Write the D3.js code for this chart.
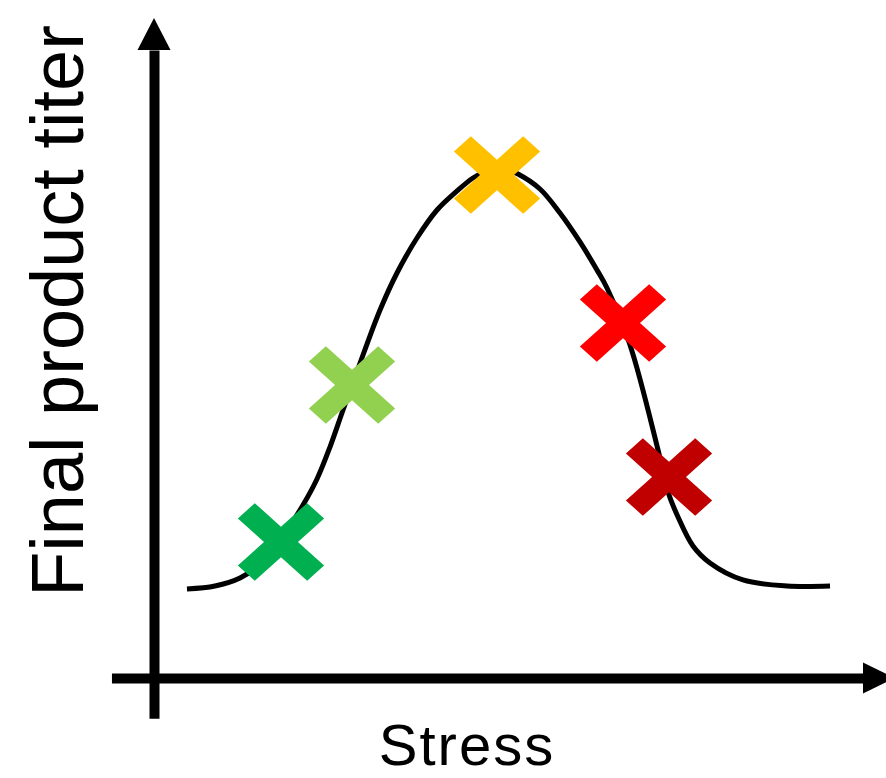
<!DOCTYPE html>
<html>
<head>
<meta charset="utf-8">
<script src="https://cdn.jsdelivr.net/npm/d3@7"></script>
<style>
  html, body { margin: 0; padding: 0; background: #fff; }
  svg { display: block; }
  text { font-family: "Liberation Sans", Arial, Helvetica, sans-serif; fill: #000; }
</style>
</head>
<body>
<svg id="chart" width="886" height="778"></svg>
<script>
// ---- data (arbitrary units: stress 0-100, titer 0-100) ----
const curveStress = [4.65, 8.60, 12.13, 14.95, 17.91, 21.02, 22.99, 24.82, 26.66, 28.35, 30.04, 31.88, 34.27, 37.09, 39.92, 42.74, 44.99, 46.69, 48.24, 49.93, 51.34, 54.44, 57.26, 60.08, 62.48, 63.89, 67.14, 71.09, 72.50, 73.91, 76.02, 78.42, 83.07, 89.28, 95.35];
const curveTiter  = [14.17, 14.65, 15.92, 18.15, 22.13, 27.55, 31.69, 36.78, 42.68, 47.93, 53.18, 58.60, 64.49, 70.06, 74.52, 77.55, 79.62, 80.57, 81.05, 80.89, 80.25, 77.87, 74.04, 69.43, 64.97, 62.10, 53.03, 36.31, 29.62, 25.64, 21.02, 18.31, 15.61, 14.65, 14.65];

const markerNames  = ["low", "mid-low", "optimal", "high", "very high"];
const markerStress = [17.91, 27.93, 48.38, 66.15, 72.64];
const markerTiter  = [21.66, 46.66, 80.10, 56.53, 32.01];
const markerColors = ["#00b050", "#92d050", "#ffc000", "#ff0000", "#c00000"];

const xLabel = "Stress";
const yLabel = "Final product titer";
const axisStart = [-6, -6.4]; // axis lines extend slightly past origin

// ---- scales ----
const svg = d3.select("#chart");
const x = d3.scaleLinear().domain([0, 100]).range([154, 863]);
const y = d3.scaleLinear().domain([0, 100]).range([678, 50]);

// ---- axes (no ticks, thick lines with arrow heads) ----
const xAxisScale = d3.scaleLinear().domain([axisStart[0], 100]).range([x(axisStart[0]), x(100)]);
const yAxisScale = d3.scaleLinear().domain([axisStart[1], 100]).range([y(axisStart[1]), y(100)]);

const gx = svg.append("g").attr("transform", `translate(0,${y(0)})`)
  .call(d3.axisBottom(xAxisScale).tickValues([]).tickSizeOuter(0));
gx.select(".domain").attr("stroke", "#000").attr("stroke-width", 10);

const gy = svg.append("g").attr("transform", `translate(${x(0)},0)`)
  .call(d3.axisLeft(yAxisScale).tickValues([]).tickSizeOuter(0));
gy.select(".domain").attr("stroke", "#000").attr("stroke-width", 10);

// arrow heads
svg.append("path")
  .attr("d", `M${x(0)},${y(100) - 32} L${x(0) - 16.5},${y(100)} L${x(0) + 16.5},${y(100)} Z`)
  .attr("fill", "#000");
svg.append("path")
  .attr("d", `M${x(100) + 32},${y(0)} L${x(100)},${y(0) - 15.5} L${x(100)},${y(0) + 15.5} Z`)
  .attr("fill", "#000");

// ---- curve ----
const pts = curveStress.map((s, i) => [s, curveTiter[i]]);
const line = d3.line().x(d => x(d[0])).y(d => y(d[1])).curve(d3.curveCatmullRom.alpha(0.5));
svg.append("path")
  .datum(pts)
  .attr("d", line)
  .attr("fill", "none")
  .attr("stroke", "#000")
  .attr("stroke-width", 5);

// ---- X markers ----
const a = 49, h = 12;
const crossPath = `M${-h},${-a} L${h},${-a} L${h},${-h} L${a},${-h} L${a},${h} L${h},${h} L${h},${a} L${-h},${a} L${-h},${h} L${-a},${h} L${-a},${-h} L${-h},${-h} Z`;
svg.append("g").selectAll("path")
  .data(markerNames.map((n, i) => ({ n, s: markerStress[i], t: markerTiter[i], c: markerColors[i] })))
  .join("path")
  .attr("d", crossPath)
  .attr("transform", d => `translate(${x(d.s)},${y(d.t)}) scale(1,0.9) rotate(45)`)
  .attr("fill", d => d.c);

// ---- labels ----
svg.append("text")
  .attr("x", 467).attr("y", 765)
  .attr("text-anchor", "middle")
  .attr("font-size", 58)
  .attr("letter-spacing", 2)
  .text(xLabel);

svg.append("text")
  .attr("transform", "translate(83,311) rotate(-90)")
  .attr("text-anchor", "middle")
  .attr("font-size", 74)
  .text(yLabel);
</script>
</body>
</html>
